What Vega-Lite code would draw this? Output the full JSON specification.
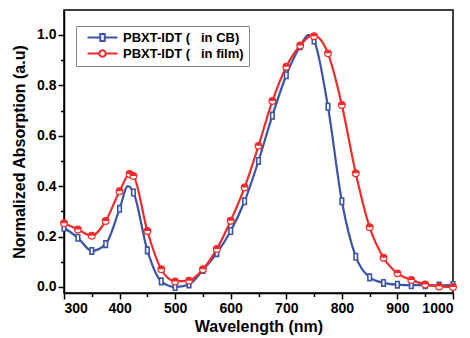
{
  "$schema": "https://vega.github.io/schema/vega-lite/v6.json",
  "width": 389,
  "height": 283,
  "autosize": {"type": "none"},
  "padding": {"left": 64, "top": 10, "right": 17, "bottom": 45},
  "background": "white",
  "config": {
    "view": {"stroke": "black", "strokeWidth": 1.5},
    "font": "Liberation Sans",
    "axis": {
      "grid": false,
      "domainColor": "black",
      "domainWidth": 1.5,
      "tickColor": "black",
      "tickWidth": 1.5,
      "labelFont": "Liberation Sans",
      "labelFontWeight": "bold",
      "labelFontSize": 14,
      "labelColor": "black",
      "titleFont": "Liberation Sans",
      "titleFontWeight": "bold",
      "titleFontSize": 16,
      "titleColor": "black"
    }
  },
  "datasets": {
    "curve": [
      {"series": "CB", "nm": 300, "abs": 0.235}, {"series": "CB", "nm": 325, "abs": 0.195}, {"series": "CB", "nm": 350, "abs": 0.143},
      {"series": "CB", "nm": 375, "abs": 0.17}, {"series": "CB", "nm": 400, "abs": 0.31}, {"series": "CB", "nm": 415, "abs": 0.4},
      {"series": "CB", "nm": 425, "abs": 0.375}, {"series": "CB", "nm": 450, "abs": 0.145}, {"series": "CB", "nm": 475, "abs": 0.022},
      {"series": "CB", "nm": 500, "abs": 0.0}, {"series": "CB", "nm": 525, "abs": 0.01}, {"series": "CB", "nm": 550, "abs": 0.067},
      {"series": "CB", "nm": 575, "abs": 0.134}, {"series": "CB", "nm": 600, "abs": 0.222}, {"series": "CB", "nm": 625, "abs": 0.34},
      {"series": "CB", "nm": 650, "abs": 0.5}, {"series": "CB", "nm": 675, "abs": 0.68}, {"series": "CB", "nm": 700, "abs": 0.84},
      {"series": "CB", "nm": 725, "abs": 0.955}, {"series": "CB", "nm": 740, "abs": 1.0}, {"series": "CB", "nm": 750, "abs": 0.978},
      {"series": "CB", "nm": 775, "abs": 0.715}, {"series": "CB", "nm": 800, "abs": 0.34}, {"series": "CB", "nm": 825, "abs": 0.12},
      {"series": "CB", "nm": 850, "abs": 0.038}, {"series": "CB", "nm": 875, "abs": 0.016}, {"series": "CB", "nm": 900, "abs": 0.009},
      {"series": "CB", "nm": 925, "abs": 0.007}, {"series": "CB", "nm": 950, "abs": 0.007}, {"series": "CB", "nm": 975, "abs": 0.006},
      {"series": "CB", "nm": 1000, "abs": 0.008},
      {"series": "film", "nm": 300, "abs": 0.253}, {"series": "film", "nm": 325, "abs": 0.228}, {"series": "film", "nm": 350, "abs": 0.203},
      {"series": "film", "nm": 375, "abs": 0.262}, {"series": "film", "nm": 400, "abs": 0.38}, {"series": "film", "nm": 418, "abs": 0.448},
      {"series": "film", "nm": 425, "abs": 0.44}, {"series": "film", "nm": 450, "abs": 0.222}, {"series": "film", "nm": 475, "abs": 0.07},
      {"series": "film", "nm": 500, "abs": 0.022}, {"series": "film", "nm": 525, "abs": 0.025}, {"series": "film", "nm": 550, "abs": 0.07},
      {"series": "film", "nm": 575, "abs": 0.151}, {"series": "film", "nm": 600, "abs": 0.263}, {"series": "film", "nm": 625, "abs": 0.395},
      {"series": "film", "nm": 650, "abs": 0.56}, {"series": "film", "nm": 675, "abs": 0.738}, {"series": "film", "nm": 700, "abs": 0.874},
      {"series": "film", "nm": 725, "abs": 0.958}, {"series": "film", "nm": 748, "abs": 1.0}, {"series": "film", "nm": 775, "abs": 0.927},
      {"series": "film", "nm": 800, "abs": 0.722}, {"series": "film", "nm": 825, "abs": 0.451}, {"series": "film", "nm": 850, "abs": 0.237},
      {"series": "film", "nm": 875, "abs": 0.116}, {"series": "film", "nm": 900, "abs": 0.054}, {"series": "film", "nm": 925, "abs": 0.028},
      {"series": "film", "nm": 950, "abs": 0.01}, {"series": "film", "nm": 975, "abs": 0.002}, {"series": "film", "nm": 1000, "abs": 0.0}
    ],
    "markers": [
      {"series": "CB", "nm": 300, "abs": 0.235}, {"series": "CB", "nm": 325, "abs": 0.195}, {"series": "CB", "nm": 350, "abs": 0.143},
      {"series": "CB", "nm": 375, "abs": 0.17}, {"series": "CB", "nm": 400, "abs": 0.31}, {"series": "CB", "nm": 425, "abs": 0.375},
      {"series": "CB", "nm": 450, "abs": 0.145}, {"series": "CB", "nm": 475, "abs": 0.022}, {"series": "CB", "nm": 500, "abs": 0.0},
      {"series": "CB", "nm": 525, "abs": 0.01}, {"series": "CB", "nm": 550, "abs": 0.067}, {"series": "CB", "nm": 575, "abs": 0.134},
      {"series": "CB", "nm": 600, "abs": 0.222}, {"series": "CB", "nm": 625, "abs": 0.34}, {"series": "CB", "nm": 650, "abs": 0.5},
      {"series": "CB", "nm": 675, "abs": 0.68}, {"series": "CB", "nm": 700, "abs": 0.84}, {"series": "CB", "nm": 725, "abs": 0.955},
      {"series": "CB", "nm": 750, "abs": 0.978}, {"series": "CB", "nm": 775, "abs": 0.715}, {"series": "CB", "nm": 800, "abs": 0.34},
      {"series": "CB", "nm": 825, "abs": 0.12}, {"series": "CB", "nm": 850, "abs": 0.038}, {"series": "CB", "nm": 875, "abs": 0.016},
      {"series": "CB", "nm": 900, "abs": 0.009}, {"series": "CB", "nm": 925, "abs": 0.007}, {"series": "CB", "nm": 950, "abs": 0.007},
      {"series": "CB", "nm": 975, "abs": 0.006}, {"series": "CB", "nm": 1000, "abs": 0.008},
      {"series": "film", "nm": 300, "abs": 0.253}, {"series": "film", "nm": 325, "abs": 0.228}, {"series": "film", "nm": 350, "abs": 0.203},
      {"series": "film", "nm": 375, "abs": 0.262}, {"series": "film", "nm": 400, "abs": 0.38}, {"series": "film", "nm": 418, "abs": 0.448},
      {"series": "film", "nm": 425, "abs": 0.44}, {"series": "film", "nm": 450, "abs": 0.222}, {"series": "film", "nm": 475, "abs": 0.07},
      {"series": "film", "nm": 500, "abs": 0.022}, {"series": "film", "nm": 525, "abs": 0.025}, {"series": "film", "nm": 550, "abs": 0.07},
      {"series": "film", "nm": 575, "abs": 0.151}, {"series": "film", "nm": 600, "abs": 0.263}, {"series": "film", "nm": 625, "abs": 0.395},
      {"series": "film", "nm": 650, "abs": 0.56}, {"series": "film", "nm": 675, "abs": 0.738}, {"series": "film", "nm": 700, "abs": 0.874},
      {"series": "film", "nm": 725, "abs": 0.958}, {"series": "film", "nm": 750, "abs": 0.995}, {"series": "film", "nm": 775, "abs": 0.927},
      {"series": "film", "nm": 800, "abs": 0.722}, {"series": "film", "nm": 825, "abs": 0.451}, {"series": "film", "nm": 850, "abs": 0.237},
      {"series": "film", "nm": 875, "abs": 0.116}, {"series": "film", "nm": 900, "abs": 0.054}, {"series": "film", "nm": 925, "abs": 0.028},
      {"series": "film", "nm": 950, "abs": 0.01}, {"series": "film", "nm": 975, "abs": 0.002}, {"series": "film", "nm": 1000, "abs": 0.0}
    ]
  },
  "encoding": {
    "x": {
      "field": "nm", "type": "quantitative",
      "scale": {"domain": [300, 1000], "nice": false, "zero": false},
      "axis": {
        "title": "Wavelength (nm)",
        "values": [300, 350, 400, 450, 500, 550, 600, 650, 700, 750, 800, 850, 900, 950, 1000],
        "labelExpr": "datum.value % 100 === 0 ? datum.label : ''",
        "format": "d",
        "tickSize": {"condition": {"test": "datum.value % 100 === 0", "value": 6}, "value": 3.5},
        "labelPadding": 2,
        "titlePadding": 3
      }
    },
    "y": {
      "field": "abs", "type": "quantitative",
      "scale": {"domain": [-0.024, 1.099], "nice": false, "zero": false},
      "axis": {
        "title": "Normalized Absorption (a.u)",
        "values": [0, 0.1, 0.2, 0.3, 0.4, 0.5, 0.6, 0.7, 0.8, 0.9, 1.0],
        "format": ".1f",
        "labelExpr": "round(datum.value * 10) % 2 === 0 ? datum.label : ''",
        "tickSize": {"condition": {"test": "round(datum.value * 10) % 2 === 0", "value": 6}, "value": 3.5},
        "labelPadding": 2,
        "titlePadding": 9
      }
    }
  },
  "layer": [
    {
      "data": {"name": "curve"},
      "mark": {"type": "line", "interpolate": "monotone", "strokeWidth": 2.2},
      "encoding": {
        "color": {
          "field": "series", "type": "nominal",
          "scale": {"domain": ["CB", "film"], "range": ["#3b55a6", "#f02b2b"]},
          "legend": {
            "title": null,
            "orient": "none",
            "legendX": 12,
            "legendY": 16,
            "labelExpr": "datum.value === 'CB' ? 'PBXT-IDT (\u00a0\u00a0\u00a0in CB)\u00a0\u00a0\u00a0\u00a0' : 'PBXT-IDT (\u00a0\u00a0\u00a0in film)\u00a0\u00a0'",
            "labelFont": "Liberation Sans",
            "labelFontWeight": "bold",
            "labelFontSize": 13,
            "labelColor": "black",
            "labelOffset": 29,
            "strokeColor": "#888888",
            "padding": 5,
            "rowPadding": 1,
            "symbolSize": 100,
            "symbolStrokeWidth": 2,
            "encode": {
              "symbols": {
                "update": {
                  "shape": {"signal": "datum.value === 'CB' ? 'M0,0H2.55M3.45,0H6M2.55,-0.7H3.45V0.7H2.55Z' : 'M0,0H2.35M3.65,0H6M2.35,0A0.65,0.65,0,1,1,3.65,0A0.65,0.65,0,1,1,2.35,0Z'"},
                  "fill": {"value": "white"},
                  "strokeWidth": {"value": 2}
                }
              }
            }
          }
        }
      }
    },
    {
      "data": {"name": "markers"},
      "transform": [{"filter": "datum.series === 'CB'"}],
      "mark": {"type": "point", "shape": "M-0.55,-1H0.55V1H-0.55Z", "filled": true, "fill": "white", "stroke": "#3b55a6", "strokeWidth": 1.6, "size": 42, "opacity": 1}
    },
    {
      "data": {"name": "markers"},
      "transform": [{"filter": "datum.series === 'film'"}],
      "mark": {"type": "point", "shape": "circle", "filled": true, "fill": "white", "stroke": "#f02b2b", "strokeWidth": 1.2, "size": 45, "opacity": 1}
    },
    {
      "data": {"name": "markers"},
      "transform": [{"filter": "datum.series === 'film'"}],
      "mark": {"type": "point", "shape": "M-1,0A1,1,0,0,1,1,0Z", "filled": true, "fill": "#f02b2b", "size": 45, "opacity": 1}
    }
  ]
}
